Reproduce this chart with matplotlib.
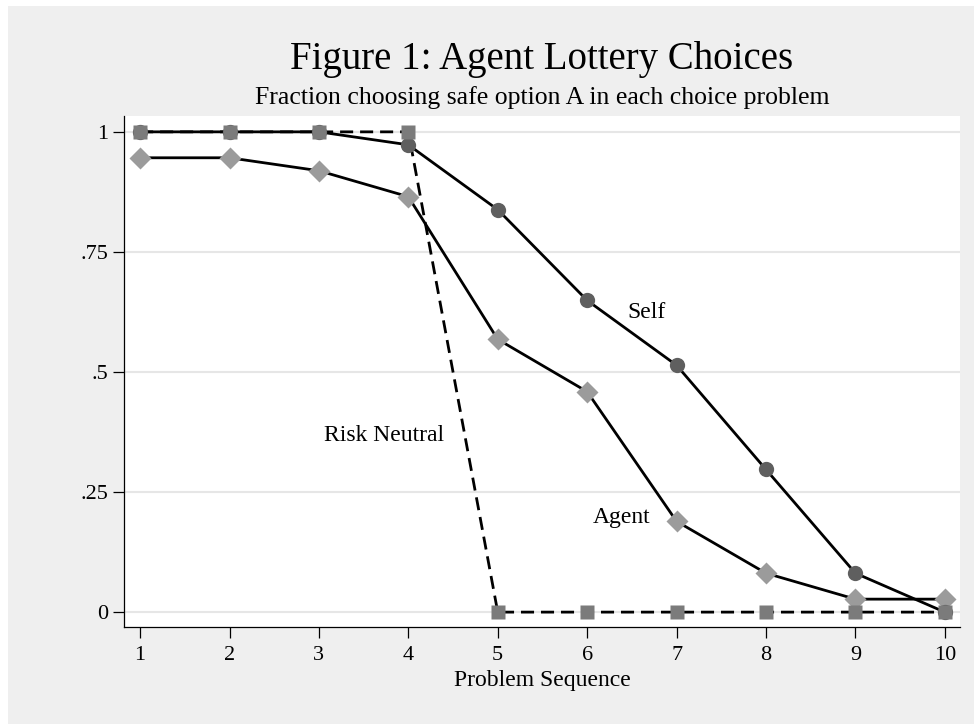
import matplotlib
matplotlib.use("Agg")
import matplotlib.pyplot as plt
from matplotlib.patches import Rectangle

problems = [1, 2, 3, 4, 5, 6, 7, 8, 9, 10]
self_frac = [1.0, 1.0, 1.0, 0.973, 0.838, 0.649, 0.514, 0.297, 0.081, 0.0]
agent_frac = [0.946, 0.946, 0.919, 0.865, 0.568, 0.459, 0.189, 0.081, 0.027, 0.027]
risk_neutral = [1, 1, 1, 1, 0, 0, 0, 0, 0, 0]
yticks = [0, 0.25, 0.5, 0.75, 1]
yticklabels = ["0", ".25", ".5", ".75", "1"]

plt.rcParams['font.family'] = ['Liberation Serif', 'DejaVu Serif']

W, H = 974, 724
fig = plt.figure(figsize=(W / 100, H / 100), dpi=100)
fig.patch.set_facecolor("white")
fig.add_artist(Rectangle((8 / W, 0), 1 - 8 / W, 1 - 6 / H, transform=fig.transFigure,
                         facecolor="#efefef", edgecolor="none", zorder=-10))

ax = fig.add_axes([124 / W, 1 - 627 / H, (960 - 124) / W, (627 - 116) / H])
ax.set_facecolor("white")

ax.plot(problems, agent_frac, color="black", lw=2.0, zorder=3)
ax.plot(problems, self_frac, color="black", lw=2.0, zorder=3)
ax.plot(problems, risk_neutral, color="black", lw=2.0, ls=(0, (4.7, 2.5)), zorder=3)
ax.plot(problems, agent_frac, ls="none", marker="D", ms=11.5, color="#9b9b9b", mec="none", zorder=4)
ax.plot(problems, self_frac, ls="none", marker="o", ms=11, color="#5f5f5f", mec="none", zorder=5)
ax.plot(problems, risk_neutral, ls="none", marker="s", ms=9.5, color="#7b7b7b", mec="none", zorder=6)

ax.text(6.45, 0.623, "Self", fontsize=17, va="center", ha="left")
ax.text(6.06, 0.198, "Agent", fontsize=17, va="center", ha="left")
ax.text(3.06, 0.367, "Risk Neutral", fontsize=17, va="center", ha="left")

ax.set_xlim(0.82, 10.17)
ax.set_ylim(-0.031, 1.033)
ax.set_xticks(problems)
ax.set_yticks(yticks)
ax.set_yticklabels(yticklabels)
ax.grid(axis="y", color="#e6e6e6", lw=1.5)
ax.set_axisbelow(True)
for s in ["top", "right"]:
    ax.spines[s].set_visible(False)
for s in ["left", "bottom"]:
    ax.spines[s].set_linewidth(0.9)
ax.tick_params(axis="both", length=8, width=0.9, labelsize=16)
ax.tick_params(axis="x", pad=6)
ax.tick_params(axis="y", pad=3)
ax.set_xlabel("Problem Sequence", fontsize=17, labelpad=3)

fig.text(542 / W, 1 - 59 / H, "Figure 1: Agent Lottery Choices", fontsize=28, ha="center", va="center")
fig.text(542 / W, 1 - 98 / H, "Fraction choosing safe option A in each choice problem", fontsize=18.5,
         ha="center", va="center")

fig.savefig("out.png", dpi=100)
